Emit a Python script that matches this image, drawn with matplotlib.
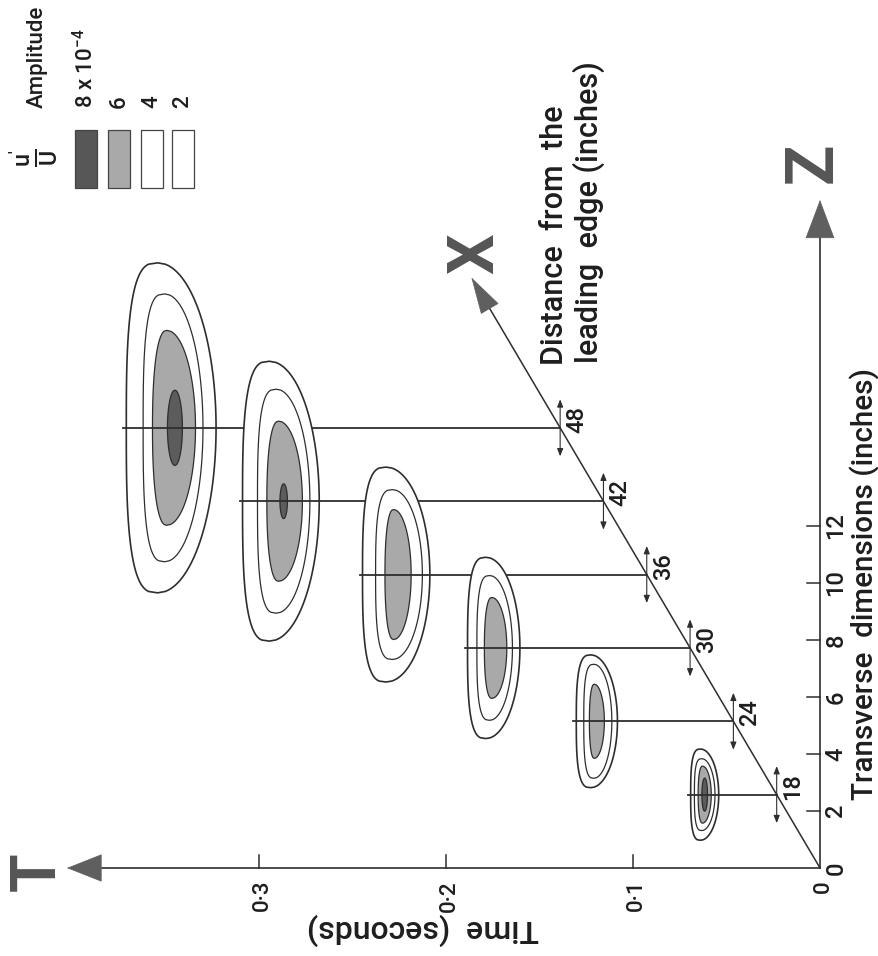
import numpy as np
import matplotlib.pyplot as plt
from matplotlib.patches import Polygon, Rectangle

plt.rcParams['font.family'] = ['Roboto', 'Liberation Sans', 'DejaVu Sans']
plt.rcParams['font.weight'] = 'medium'
plt.rcParams['mathtext.fontset'] = 'custom'
plt.rcParams['mathtext.rm'] = 'Roboto:medium'
plt.rcParams['mathtext.it'] = 'Roboto:medium'

# stations along the plate (distance from leading edge, inches)
stations = [18, 24, 30, 36, 42, 48]

# contour extents relative to each station: near/far time (s), half width in z (in)
outer_near = [0.031, 0.062, 0.091, 0.116, 0.152, 0.184]
outer_far = [0.046, 0.084, 0.119, 0.152, 0.193, 0.232]
outer_half = [1.60, 2.33, 3.18, 3.77, 4.91, 5.79]

amp4_near = [0.033, 0.065, 0.095, 0.120, 0.157, 0.191]
amp4_far = [0.044, 0.080, 0.114, 0.145, 0.185, 0.223]
amp4_half = [1.26, 2.00, 2.54, 2.98, 3.93, 4.70]

amp6_near = [0.035, 0.069, 0.098, 0.126, 0.161, 0.195]
amp6_far = [0.042, 0.077, 0.110, 0.140, 0.180, 0.218]
amp6_half = [1.00, 1.30, 1.77, 2.28, 2.81, 3.42]

amp8_near = [0.037, None, None, None, 0.169, 0.202]
amp8_far = [0.040, None, None, None, 0.173, 0.210]
amp8_half = [0.58, None, None, None, 0.61, 1.32]

z_ticks = [0, 2, 4, 6, 8, 10, 12]
t_ticks = [0.1, 0.2, 0.3]
t_labels = ['0·1', '0·2', '0·3']

legend_labels = ['8 x 10$^{-4}$', '6', '4', '2']
legend_colors = ['#575757', '#a9a9a9', 'white', 'white']

# oblique X axis: value at origin and its projection per inch
X_AT_ORIGIN = 12
T_PER_X = 0.00386
Z_PER_X = 0.429
X_TIP = 60.3
T_TIP = 0.4027
Z_TIP = 23.44

LINE = '#2e2e2e'
HEAD = '#5f5f5f'
TXT = '#1e1e1e'


def base(x):
    return (x - X_AT_ORIGIN) * T_PER_X, (x - X_AT_ORIGIN) * Z_PER_X


def bean(t_near, t_far, half, frac, n):
    s = np.linspace(-1, 1, 240)
    w = t_far - t_near
    ta = t_far - frac * w
    left = ta + frac * w * (1 - np.abs(s) ** n) ** (1 / n)
    right = ta - (1 - frac) * w * np.sqrt(1 - s ** 2)
    t = np.concatenate([left, right[::-1]])
    z = np.concatenate([s, s[::-1]]) * half
    return t, z


fig = plt.figure(figsize=(8.79, 9.56), dpi=100)
ax = fig.add_axes([0, 0, 1, 1])
ax.set_xlim(0.4385, -0.03155)
ax.set_ylim(-3.088, 30.456)
ax.axis('off')


def fpx(x, y):
    return x / 879, 1 - y / 956


def head(tip, start, hl, hw):
    ax.annotate('', xy=tip, xytext=start, zorder=30,
                arrowprops=dict(arrowstyle=f'-|>,head_length={hl},head_width={hw}',
                                mutation_scale=10, fc=HEAD, ec=HEAD, lw=0.5,
                                shrinkA=0, shrinkB=0))


# axes
ax.plot([0, T_TIP - 0.017], [0, 0], color=LINE, lw=1.2, zorder=2)
head((T_TIP, 0), (T_TIP - 0.0177, 0), 2.4, 0.95)
ax.plot([0, 0], [0, Z_TIP - 1.2], color=LINE, lw=1.2, zorder=2)
head((0, Z_TIP), (0, Z_TIP - 1.3), 2.65, 1.0)
xt, zt = base(X_TIP)
xb, zb = base(X_TIP - 2.4)
ax.plot([0, xb], [0, zb], color=LINE, lw=1.1, zorder=2)
head((xt, zt), (xb, zb), 2.5, 0.7)

for z in z_ticks[1:]:
    ax.plot([0, 0.007], [z, z], color=LINE, lw=1.1, zorder=2)
for z in z_ticks:
    ax.text(-0.0119, z, str(z), rotation=90, rotation_mode='anchor',
            ha='center', va='baseline', fontsize=17, color=TXT)
for t in t_ticks:
    ax.plot([t, t], [0, 0.46], color=LINE, lw=1.1, zorder=2)
for t, lab in zip([0] + t_ticks, ['0'] + t_labels):
    ax.text(t - 0.0048, -0.42, lab, rotation=90, rotation_mode='anchor',
            ha='right', va='baseline', fontsize=16, color=TXT)

# contour patterns, far stations first so near ones sit on top
for i in range(len(stations) - 1, -1, -1):
    t0, z0 = base(stations[i])
    zo = 5 + (len(stations) - i) * 3
    levels = [
        (outer_near[i], outer_far[i], outer_half[i], 0.35, 3, 'white', 1.2),
        (amp4_near[i], amp4_far[i], amp4_half[i], 0.36, 3, 'white', 0.9),
        (amp6_near[i], amp6_far[i], amp6_half[i], 0.33, 2.3, '#a9a9a9', 0.9),
        (amp8_near[i], amp8_far[i], amp8_half[i], 0.5, 2, '#5c5c5c', 0.9),
    ]
    for tn, tf, hz, frac, n, fc, lw in levels:
        if tn is None:
            continue
        t, z = bean(tn, tf, hz, frac, n)
        ax.add_patch(Polygon(np.column_stack([t0 + t, z0 + z]), closed=True,
                             fc=fc, ec=LINE, lw=lw, zorder=zo))
    ax.plot([t0, t0 + outer_far[i] + 0.0015], [z0, z0], color=LINE, lw=1.3,
            zorder=zo + 1)
    ax.annotate('', xy=(t0, z0 + 1.0), xytext=(t0, z0 - 1.0), zorder=zo + 1,
                arrowprops=dict(arrowstyle='<|-|>,head_length=0.45,head_width=0.18',
                                mutation_scale=10, color=LINE, lw=0.8,
                                shrinkA=0, shrinkB=0))
    ax.annotate(str(stations[i]), xy=(t0, z0), xytext=(16.5, 6),
                textcoords='offset points', rotation=90, rotation_mode='anchor',
                ha='center', va='baseline', fontsize=17, color=TXT,
                zorder=zo + 1)

# big axis letters
for lab, x, y, fs in [('T', 55, 872, 45), ('X', 493, 254, 46), ('Z', 832, 163, 48)]:
    fig.text(*fpx(x, y), lab, rotation=90, rotation_mode='anchor', ha='center',
             va='baseline', fontsize=fs, fontweight='bold', color='#555555')

# axis titles
fig.text(*fpx(873, 800), 'Transverse  dimensions (inches)', rotation=90,
         rotation_mode='anchor', ha='left', va='baseline', fontsize=21.3, color=TXT)
fig.text(*fpx(563, 365), 'Distance  from  the', rotation=90,
         rotation_mode='anchor', ha='left', va='baseline', fontsize=22, color=TXT)
fig.text(*fpx(598, 363), 'leading  edge (inches)', rotation=90,
         rotation_mode='anchor', ha='left', va='baseline', fontsize=22, color=TXT)
fig.text(*fpx(423, 920), 'Time  (seconds)', rotation=180,
         rotation_mode='anchor', ha='center', va='baseline', fontsize=23, color=TXT)

# legend
box_x = [75, 108, 141, 172]
for bx, col, lab in zip(box_x, legend_colors, legend_labels):
    fig.add_artist(Rectangle(fpx(bx, 188), 22 / 879, 58 / 956, fc=col, ec='#444',
                             lw=0.9, transform=fig.transFigure))
    fig.text(*fpx(bx + 11, 108), lab, rotation=90, rotation_mode='anchor',
             ha='left', va='center', fontsize=16, color=TXT)
fig.text(*fpx(43, 108), 'Amplitude', rotation=90, rotation_mode='anchor',
         ha='left', va='baseline', fontsize=16, color=TXT)
fig.text(*fpx(34, 158), r"$\frac{\mathrm{u'}}{\mathrm{U}}$", rotation=90,
         rotation_mode='anchor', ha='center', va='center', fontsize=24, color=TXT)

fig.savefig('out.png', dpi=100, facecolor='white')
